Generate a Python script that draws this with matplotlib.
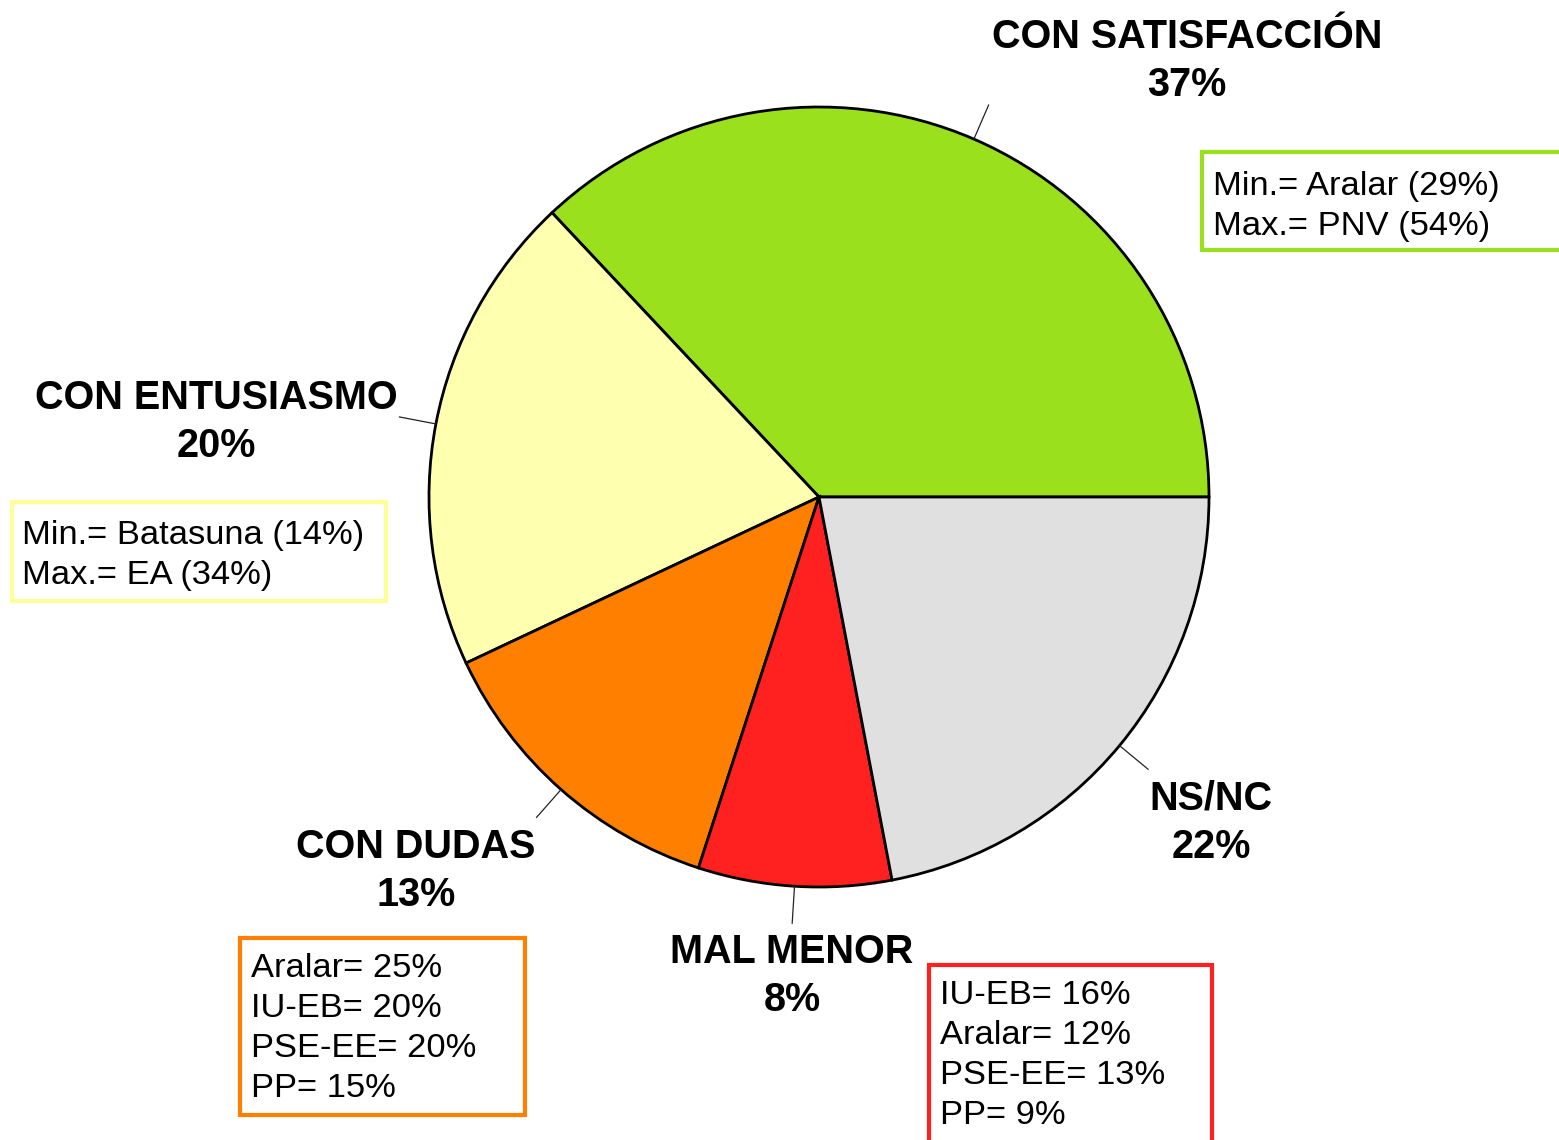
import numpy as np
import matplotlib
matplotlib.use("Agg")
import matplotlib.pyplot as plt
from matplotlib.patches import Rectangle

W, H = 1559, 1140

# slices, counterclockwise from east
labels = ["CON SATISFACCIÓN", "CON ENTUSIASMO", "CON DUDAS", "MAL MENOR", "NS/NC"]
values = [37, 20, 13, 8, 22]
colors = ["#9AE01C", "#FFFFB0", "#FF8000", "#FF2020", "#E0E0E0"]

# text boxes per slice (None = no box)
box_lines = [
    ["Min.= Aralar (29%)", "Max.= PNV (54%)"],
    ["Min.= Batasuna (14%)", "Max.= EA (34%)"],
    ["Aralar= 25%", "IU-EB= 20%", "PSE-EE= 20%", "PP= 15%"],
    ["IU-EB= 16%", "Aralar= 12%", "PSE-EE= 13%", "PP= 9%"],
    None,
]
box_edge = ["#9AE01C", "#FFFF99", "#FF8000", "#FF2020", None]

# layout (pixels from top-left)
cx, cy, R = 819, 497, 390
label_pos = [(1187, 48), (216, 409), (416, 858), (792, 963), (1211, 810)]
box_rect = [(1202, 152, 400, 98), (12, 502, 374, 99), (240, 938, 285, 177),
            (929, 965, 283, 200), None]
text_start = [(1213, 195), (22, 544), (251, 977), (940, 1004), None]
line_step = 40

plt.rcParams['font.family'] = ['Liberation Sans', 'DejaVu Sans']

fig = plt.figure(figsize=(W / 100, H / 100), dpi=100)
ax = fig.add_axes([0, 0, 1, 1])


def Y(py):
    return H - py


ax.pie(values, colors=colors, startangle=0, counterclock=True,
       center=(cx, Y(cy)), radius=R,
       wedgeprops=dict(edgecolor="black", linewidth=2))
ax.set_xlim(0, W)
ax.set_ylim(0, H)
ax.set_aspect("equal")
ax.axis("off")

# leader lines and labels
cum = np.cumsum([0] + values)
for i, lab in enumerate(labels):
    mid = np.deg2rad((cum[i] + cum[i + 1]) / 2 * 3.6)
    x0, y0 = cx + R * np.cos(mid), Y(cy) + R * np.sin(mid)
    x1, y1 = cx + 1.095 * R * np.cos(mid), Y(cy) + 1.095 * R * np.sin(mid)
    ax.plot([x0, x1], [y0, y1], color="#222222", lw=0.9)
    lx, ly = label_pos[i]
    ax.text(lx, Y(ly), lab, ha="center", va="baseline", fontsize=28.5,
            fontweight="bold")
    ax.text(lx, Y(ly + 48), f"{values[i]}%", ha="center", va="baseline",
            fontsize=28.5, fontweight="bold")

    if box_lines[i] is not None:
        bx, by, bw, bh = box_rect[i]
        ax.add_patch(Rectangle((bx, Y(by + bh)), bw, bh, facecolor="white",
                               edgecolor=box_edge[i], lw=3, clip_on=False))
        tx, ty = text_start[i]
        for k, line in enumerate(box_lines[i]):
            ax.text(tx, Y(ty + k * line_step), line, ha="left",
                    va="baseline", fontsize=24.8)

fig.savefig("out.png", dpi=100)
